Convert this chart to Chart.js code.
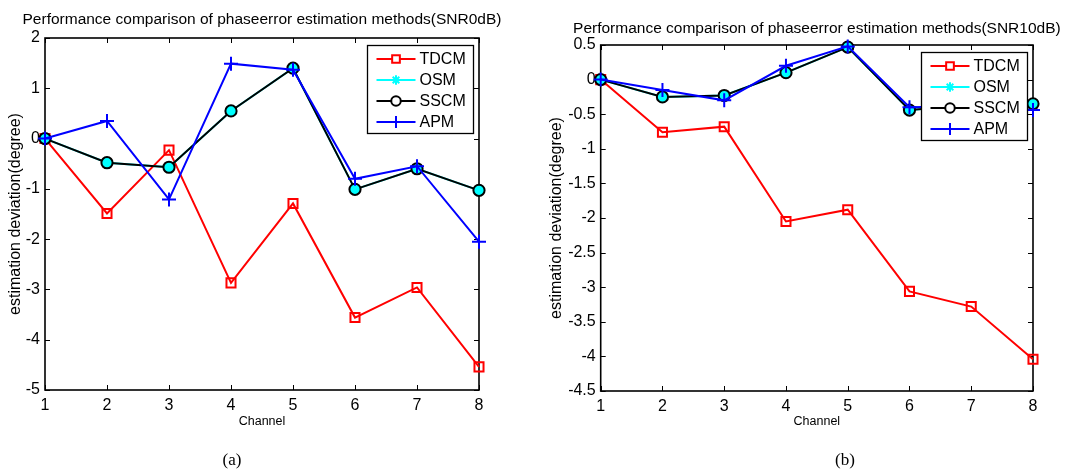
<!DOCTYPE html>
<html>
<head>
<meta charset="utf-8">
<script src="https://cdn.jsdelivr.net/npm/chart.js@4.4.1/dist/chart.umd.min.js"></script>
<style>
  body { margin: 0; background: #fff; }
  #wrap { position: relative; width: 1072px; height: 471px; overflow: hidden; }
  canvas { position: absolute; top: 0; }
  .cap { position: absolute; top: 460px; transform: translate(-50%, -50%);
         font-family: "Liberation Serif", "DejaVu Serif", serif; font-size: 17px; color: #000; }
</style>
</head>
<body>
<div id="wrap">
  <canvas id="chartA" width="536" height="471" style="left:0"></canvas>
  <canvas id="chartB" width="536" height="471" style="left:536px"></canvas>
  <div class="cap" style="left:232px">(a)</div>
  <div class="cap" style="left:845px">(b)</div>
</div>
<script>
const channels = ['1', '2', '3', '4', '5', '6', '7', '8'];
const seriesNames = ['TDCM', 'OSM', 'SSCM', 'APM'];

// (a) SNR 0 dB
const tdcmA = [0, -1.49, -0.23, -2.87, -1.29, -3.56, -2.96, -4.54];
const osmA  = [0, -0.48, -0.57, 0.55, 1.40, -1.01, -0.60, -1.03];
const sscmA = [0, -0.48, -0.57, 0.55, 1.40, -1.01, -0.60, -1.03];
const apmA  = [0, 0.35, -1.21, 1.49, 1.37, -0.80, -0.55, -2.05];

// (b) SNR 10 dB
const tdcmB = [0, -0.76, -0.68, -2.05, -1.88, -3.06, -3.28, -4.04];
const osmB  = [0, -0.25, -0.23, 0.10, 0.47, -0.44, -0.37, -0.35];
const sscmB = [0, -0.25, -0.23, 0.10, 0.47, -0.44, -0.37, -0.35];
const apmB  = [0, -0.15, -0.30, 0.20, 0.48, -0.40, -0.38, -0.44];

const titleA = 'Performance comparison of phaseerror estimation methods(SNR0dB)';
const titleB = 'Performance comparison of phaseerror estimation methods(SNR10dB)';
const yTitle = 'estimation deviation(degree)';
const xTitle = 'Channel';

const FONT = '"Liberation Sans", Arial, sans-serif';

function makeDatasets(tdcm, osm, sscm, apm) {
    // order: lower number is drawn on top (APM last like matlab)
    return [
        { label: seriesNames[0], data: tdcm, order: 4, borderColor: '#ff0000', pointStyle: 'rect', pointRadius: 6.4,
          pointBorderColor: '#ff0000', pointBackgroundColor: 'rgba(0,0,0,0)', legendFill: '#ffffff' },
        { label: seriesNames[1], data: osm, order: 3, borderColor: '#00ffff', pointStyle: 'star', pointRadius: 5.5,
          pointBorderColor: '#00ffff', pointBackgroundColor: '#00ffff', legendFill: '#00ffff' },
        { label: seriesNames[2], data: sscm, order: 2, borderColor: '#000000', pointStyle: 'circle', pointRadius: 5.6,
          pointBorderColor: '#000000', pointBackgroundColor: '#00ffff', legendFill: '#ffffff' },
        { label: seriesNames[3], data: apm, order: 1, borderColor: '#0000ff', pointStyle: 'cross', pointRadius: 7,
          pointBorderColor: '#0000ff', pointBackgroundColor: '#0000ff', legendFill: '#0000ff' }
    ].map(d => Object.assign(d, {
        borderWidth: 2, pointBorderWidth: 2, tension: 0, fill: false, clip: false
    }));
}

// axes box with inward ticks, title and legend, like matlab
const boxPlugin = {
    id: 'box',
    beforeDatasetsDraw(chart) {
        const { ctx, chartArea: a, scales } = chart;
        ctx.save();
        ctx.strokeStyle = '#000';
        ctx.lineWidth = 1.6;
        ctx.strokeRect(a.left, a.top, a.right - a.left, a.bottom - a.top);
        ctx.lineWidth = 1;
        ctx.beginPath();
        scales.x.ticks.forEach((t, i) => {
            const px = Math.round(scales.x.getPixelForTick(i)) + 0.5;
            ctx.moveTo(px, a.bottom); ctx.lineTo(px, a.bottom - 5);
            ctx.moveTo(px, a.top); ctx.lineTo(px, a.top + 5);
        });
        scales.y.ticks.forEach(t => {
            const py = Math.round(scales.y.getPixelForValue(t.value)) + 0.5;
            ctx.moveTo(a.left, py); ctx.lineTo(a.left + 5, py);
            ctx.moveTo(a.right, py); ctx.lineTo(a.right - 5, py);
        });
        ctx.stroke();

        const opts = chart.options.plugins.box;
        ctx.fillStyle = '#000';
        ctx.font = '15.5px ' + FONT;
        ctx.textAlign = 'center';
        ctx.textBaseline = 'middle';
        ctx.fillText(opts.title, (a.left + a.right) / 2, opts.titleY);
        ctx.restore();
    },
    afterDatasetsDraw(chart) {
        const { ctx, chartArea: a } = chart;
        const w = 106, h = 88;
        const x0 = a.right - 5.5 - w, y0 = a.top + 7.5;
        ctx.save();
        ctx.fillStyle = '#fff';
        ctx.fillRect(x0, y0, w, h);
        ctx.strokeStyle = '#000';
        ctx.lineWidth = 1.3;
        ctx.strokeRect(x0, y0, w, h);
        ctx.font = '16px ' + FONT;
        ctx.textBaseline = 'middle';
        chart.data.datasets.forEach((ds, i) => {
            const cy = y0 + 13.5 + i * 21;
            ctx.strokeStyle = ds.borderColor;
            ctx.lineWidth = ds.borderWidth;
            ctx.beginPath();
            ctx.moveTo(x0 + 9, cy); ctx.lineTo(x0 + 48, cy);
            ctx.stroke();
            ctx.fillStyle = ds.legendFill;
            ctx.strokeStyle = ds.pointBorderColor;
            ctx.lineWidth = ds.pointBorderWidth;
            Chart.helpers.drawPoint(ctx, { pointStyle: ds.pointStyle, radius: ds.pointRadius * 0.85, rotation: 0, borderWidth: ds.pointBorderWidth }, x0 + 28.5, cy);
            ctx.fillStyle = '#000';
            ctx.fillText(ds.label, x0 + 52, cy + 1);
        });
        ctx.restore();
    }
};

function makeChart(id, title, datasets, yMin, yMax, yStep, dims) {
    new Chart(document.getElementById(id), {
        type: 'line',
        data: { labels: channels, datasets: datasets },
        options: {
            responsive: false,
            animation: false,
            layout: { padding: { left: 0, right: dims.padRight, top: dims.top, bottom: 0 } },
            plugins: {
                legend: { display: false },
                tooltip: { enabled: false },
                title: { display: false },
                box: { title: title, titleY: dims.titleY }
            },
            scales: {
                x: {
                    grid: { display: false, drawTicks: false, tickLength: 0 },
                    border: { display: false },
                    ticks: { color: '#000', padding: 6, maxRotation: 0, font: { family: FONT, size: 16 } },
                    title: { display: true, text: xTitle, color: '#000',
                             font: { family: FONT, size: 12.5 }, padding: { top: 0, bottom: dims.xTitleBottom } },
                    afterFit(scale) { scale.height = dims.xHeight; }
                },
                y: {
                    min: yMin, max: yMax,
                    grid: { display: false, drawTicks: false, tickLength: 0 },
                    border: { display: false },
                    ticks: { stepSize: yStep, color: '#000', padding: 5, font: { family: FONT, size: 16 },
                             callback: v => String(v) },
                    title: { display: true, text: yTitle, color: '#000',
                             font: { family: FONT, size: 16 }, padding: { top: dims.yTitleTop, bottom: 0 } },
                    afterFit(scale) { scale.width = dims.yWidth; }
                }
            }
        },
        plugins: [boxPlugin]
    });
}

makeChart('chartA', titleA, makeDatasets(tdcmA, osmA, sscmA, apmA), -5, 2, 1,
    { padRight: 57, top: 38, titleY: 20, xHeight: 81, xTitleBottom: 41.8, yWidth: 45, yTitleTop: 6 });
makeChart('chartB', titleB, makeDatasets(tdcmB, osmB, sscmB, apmB), -4.5, 0.5, 0.5,
    { padRight: 39, top: 45, titleY: 29, xHeight: 80, xTitleBottom: 41.8, yWidth: 64.7, yTitleTop: 11 });
</script>
</body>
</html>
